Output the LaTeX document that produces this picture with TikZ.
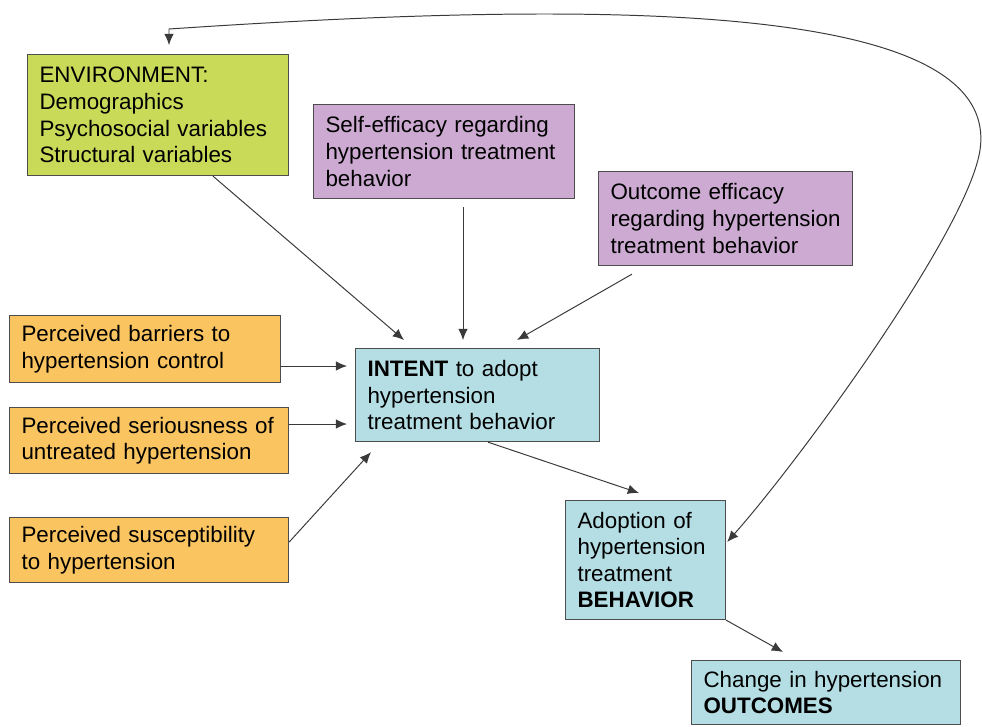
\documentclass[tikz,border=0pt]{standalone}
\usepackage{fontspec}
\setmainfont{Liberation Sans}
\usetikzlibrary{arrows.meta,calc}
\definecolor{envgreen}{HTML}{C8DA58}
\definecolor{effpurple}{HTML}{CCAAD2}
\definecolor{percorange}{HTML}{FAC460}
\definecolor{behblue}{HTML}{B4DEE4}
\definecolor{boxline}{HTML}{4D4D4D}
\definecolor{linkgray}{HTML}{3A3A3A}
\begin{document}
\begin{tikzpicture}[x=0.025cm, y=-0.025cm,
		box/.style={draw=boxline, line width=0.8pt, anchor=north west, align=left,
			inner xsep=0.3cm, inner ysep=0pt, font=\fontsize{15.9}{18.9}\selectfont},
		link/.style={draw=linkgray, line width=0.7pt, -{Latex[length=2.8mm,width=2.4mm]}}]
		\useasboundingbox (0,0) rectangle (982,726);

		% riquadri
		\node[box, fill=envgreen, text width=5.925cm, minimum height=3.025cm] (env) at (27,54)
			{ENVIRONMENT:\\Demographics\\Psychosocial variables\\Structural variables};
		\node[box, fill=effpurple, text width=5.925cm, minimum height=2.35cm] (selfeff) at (313,104)
			{Self-efficacy regarding\\hypertension treatment\\behavior};
		\node[box, fill=effpurple, text width=5.75cm, minimum height=2.35cm] (outeff) at (598,171)
			{Outcome efficacy\\regarding hypertension\\treatment behavior};
		\node[box, fill=percorange, text width=6.175cm, minimum height=1.675cm] (barriers) at (9,315)
			{Perceived barriers to\\hypertension control};
		\node[box, fill=percorange, text width=6.375cm, minimum height=1.65cm] (serious) at (9,407)
			{Perceived seriousness of\\untreated hypertension};
		\node[box, fill=percorange, text width=6.375cm, minimum height=1.625cm] (suscept) at (9,517)
			{Perceived susceptibility\\to hypertension};
		\node[box, fill=behblue, text width=5.5cm, minimum height=2.325cm] (intent) at (355,348)
			{\textbf{INTENT} to adopt\\hypertension\\treatment behavior};
		\node[box, fill=behblue, text width=3.4cm, minimum height=2.975cm] (adopt) at (565,500)
			{Adoption of\\hypertension\\treatment\\\textbf{BEHAVIOR}};
		\node[box, fill=behblue, text width=6.125cm, minimum height=1.6cm] (outcomes) at (691,660)
			{Change in hypertension\\\textbf{OUTCOMES}};

		% frecce verso l'intenzione
		\draw[link] ($(env.south west)+(186,0)$) -- ($(intent.north west)+(49,-8)$);
		\draw[link] ($(selfeff.south west)+(150,8)$) -- ($(intent.north west)+(108,-8)$);
		\draw[link] ($(outeff.south west)+(34,8)$) -- ($(intent.north west)+(162,-8)$);
		\draw[link] ($(barriers.north east)+(0,51)$) -- ($(intent.north west)+(-8,18)$);
		\draw[link] ($(serious.north east)+(0,17)$) -- ($(intent.north west)+(-8,76)$);
		\draw[link] ($(suscept.north east)+(0,25)$) -- ($(intent.south west)+(16,10)$);

		% intenzione -> comportamento -> esiti
		\draw[link] ($(intent.south west)+(133,0)$) -- ($(adopt.north west)+(74,-7)$);
		\draw[link] (adopt.south east) -- ($(outcomes.north west)+(92,-8)$);

		% retroazione
		\draw[link, {Latex[length=2.8mm,width=2.4mm]}-{Latex[length=2.8mm,width=2.4mm]}]
			($(env.north west)+(142,-9)$) -- ($(env.north west)+(142,-25)$)
			.. controls (600,0) and (1002,0) .. (980,150)
			.. controls (968,230) and (800,460) .. ($(adopt.north east)+(1,42)$);
	\end{tikzpicture}
\end{document}
